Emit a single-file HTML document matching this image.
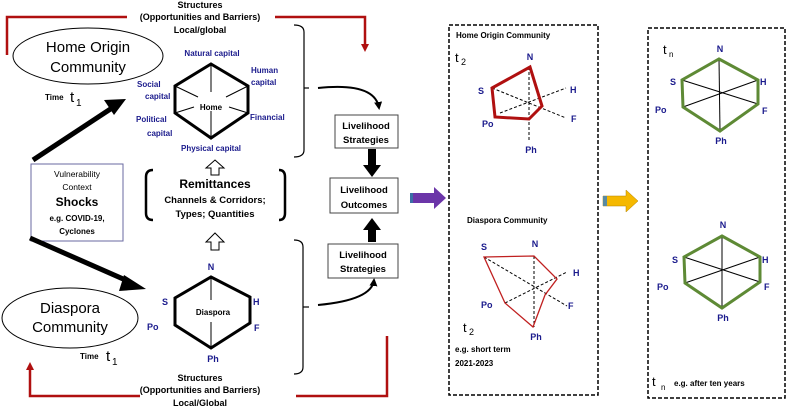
<!DOCTYPE html>
<html><head><meta charset="utf-8"><style>
html,body{margin:0;padding:0;background:#fff;}
svg{display:block;font-family:"Liberation Sans",sans-serif;}
.b{font-weight:bold;}
.bl{fill:#1a1a8c;font-weight:bold;}
</style></head><body>
<svg width="787" height="409" viewBox="0 0 787 409" xmlns="http://www.w3.org/2000/svg">
<defs>
<marker id="ra" markerWidth="8" markerHeight="8" refX="4" refY="4" orient="auto" markerUnits="userSpaceOnUse"><path d="M0,0 L8,4 L0,8 z" fill="#b01010"/></marker>
<marker id="ka" markerWidth="8" markerHeight="8" refX="6" refY="4" orient="auto" markerUnits="userSpaceOnUse"><path d="M0,0 L8,4 L0,8 z" fill="#000"/></marker>
</defs>
<!-- red structure lines -->
<g stroke="#b01010" stroke-width="2.5" fill="none">
<polyline points="7,55 7,17 127,17"/>
<polyline points="275,17 365,17 365,48" marker-end="url(#ra)"/>
<polyline points="140,396 30,396 30,366" marker-end="url(#ra)"/>
<polyline points="296,396 387,396 387,336"/>
</g>
<g font-size="9" class="b" text-anchor="middle">
<text x="200" y="8">Structures</text>
<text x="200" y="20">(Opportunities and Barriers)</text>
<text x="200" y="33">Local/global</text>
<text x="200" y="381">Structures</text>
<text x="200" y="393">(Opportunities and Barriers)</text>
<text x="200" y="406">Local/Global</text>
</g>
<!-- ellipses -->
<ellipse cx="88" cy="56" rx="75" ry="28" fill="none" stroke="#000" stroke-width="1"/>
<text x="88" y="52" font-size="15" text-anchor="middle">Home Origin</text>
<text x="88" y="72" font-size="15" text-anchor="middle">Community</text>
<text x="45" y="100" font-size="8" class="b">Time</text><text x="70" y="102" font-size="15">t</text><text x="76" y="106" font-size="10">1</text>
<ellipse cx="70" cy="318" rx="68" ry="30" fill="none" stroke="#000" stroke-width="1"/>
<text x="70" y="313" font-size="15" text-anchor="middle">Diaspora</text>
<text x="70" y="332" font-size="15" text-anchor="middle">Community</text>
<text x="80" y="359" font-size="8" class="b">Time</text><text x="106" y="361" font-size="15">t</text><text x="112" y="365" font-size="10">1</text>
<!-- home hexagon -->
<polygon points="211,64 248,86 248,113 211,138 175,113 175,86" fill="none" stroke="#000" stroke-width="3"/>
<g stroke="#000" stroke-width="1">
<line x1="211" y1="64" x2="211" y2="92"/><line x1="211" y1="111" x2="211" y2="138"/>
<line x1="175" y1="86" x2="198" y2="97"/><line x1="248" y1="86" x2="226" y2="97"/>
<line x1="175" y1="113" x2="194" y2="107"/><line x1="248" y1="113" x2="229" y2="107"/>
</g>
<text x="211" y="110" font-size="8" class="b" text-anchor="middle">Home</text>
<g font-size="8" class="bl">
<text x="212" y="56" text-anchor="middle">Natural capital</text>
<text x="251" y="73">Human</text><text x="251" y="85">capital</text>
<text x="137" y="87">Social</text><text x="145" y="99">capital</text>
<text x="250" y="120">Financial</text>
<text x="136" y="122">Political</text><text x="147" y="136">capital</text>
<text x="211" y="151" text-anchor="middle">Physical capital</text>
</g>
<!-- brackets -->
<g fill="none" stroke="#000" stroke-width="1.2">
<path d="M294,25 Q304,25 304,32 L304,150 Q304,157 294,157"/>
<line x1="304" y1="88" x2="309" y2="88"/>
<path d="M294,240 Q303,240 303,247 L303,367 Q303,374 294,374"/>
<line x1="303" y1="307" x2="309" y2="307"/>
</g>
<g fill="none" stroke="#000" stroke-width="2">
<path d="M318,88 Q375,82 379,108" marker-end="url(#ka)"/>
<path d="M318,305 Q372,300 374,280" marker-end="url(#ka)"/>
</g>
<!-- remittances -->
<g fill="none" stroke="#000" stroke-width="2.5">
<path d="M153,170 Q146,170 146,177 L146,213 Q146,220 153,220"/>
<path d="M279,170 Q285,170 285,177 L285,213 Q285,220 279,220"/>
</g>
<text x="215" y="188" font-size="12" class="b" text-anchor="middle">Remittances</text>
<text x="215" y="203" font-size="9.5" class="b" text-anchor="middle">Channels &amp; Corridors;</text>
<text x="215" y="217" font-size="9.5" class="b" text-anchor="middle">Types; Quantities</text>
<g fill="#fff" stroke="#000" stroke-width="1">
<polygon points="215,160 224,168 219,168 219,175 211,175 211,168 206,168"/>
<polygon points="215,233 224,242 219,242 219,250 211,250 211,242 206,242"/>
</g>
<!-- vulnerability -->
<rect x="31" y="164" width="92" height="77" fill="#fff" stroke="#6a6aa0" stroke-width="1"/>
<g text-anchor="middle" font-size="8.5">
<text x="77" y="177">Vulnerability</text>
<text x="77" y="190">Context</text>
<text x="77" y="206" font-size="12" class="b">Shocks</text>
<text x="77" y="221" font-size="8" class="b">e.g. COVID-19,</text>
<text x="77" y="234" font-size="8" class="b">Cyclones</text>
</g>
<!-- black thick arrows -->
<line x1="33" y1="160" x2="112" y2="108" stroke="#000" stroke-width="5"/>
<polygon points="126,99 104,100 114,115" fill="#000"/>
<line x1="30" y1="238" x2="130" y2="282" stroke="#000" stroke-width="5"/>
<polygon points="146,289 124,275 119,291" fill="#000"/>
<!-- diaspora hexagon -->
<polygon points="211,277 250,297 250,323 211,348 175,325 175,298" fill="none" stroke="#000" stroke-width="3"/>
<g stroke="#000" stroke-width="1">
<line x1="211" y1="277" x2="211" y2="300"/><line x1="211" y1="322" x2="211" y2="348"/>
</g>
<text x="213" y="315" font-size="8" class="b" text-anchor="middle">Diaspora</text>
<g font-size="9" class="bl">
<text x="211" y="270" text-anchor="middle">N</text>
<text x="162" y="305">S</text>
<text x="253" y="305">H</text>
<text x="147" y="330">Po</text>
<text x="254" y="331">F</text>
<text x="213" y="362" text-anchor="middle">Ph</text>
</g>
<!-- livelihood boxes -->
<g fill="#fff" stroke="#444" stroke-width="1">
<rect x="335" y="115" width="63" height="33"/>
<rect x="330" y="178" width="68" height="35"/>
<rect x="328" y="244" width="70" height="34"/>
</g>
<g font-size="9.5" class="b" text-anchor="middle">
<text x="366" y="129">Livelihood</text><text x="366" y="143">Strategies</text>
<text x="364" y="193">Livelihood</text><text x="364" y="208">Outcomes</text>
<text x="363" y="258">Livelihood</text><text x="363" y="272">Strategies</text>
</g>
<polygon points="368,149 376,149 376,165 381,165 372,177 363,165 368,165" fill="#000"/>
<polygon points="368,242 376,242 376,230 381,230 372,218 363,230 368,230" fill="#000"/>
<!-- purple & yellow arrows -->
<polygon points="410,193 434,193 434,187 446,198 434,209 434,203 410,203" fill="#6b35a8"/>
<rect x="410" y="193" width="3" height="10" fill="#3a6ea5"/>
<polygon points="603,196 626,196 626,190 638,201 626,212 626,206 603,206" fill="#f5b800" stroke="#b08000" stroke-width="0.5"/>
<rect x="603" y="196" width="4" height="10" fill="#5a8aa0"/>
<!-- dashed boxes -->
<rect x="449" y="25" width="149" height="370" fill="none" stroke="#000" stroke-width="1.5" stroke-dasharray="4,2"/>
<rect x="648" y="28" width="137" height="370" fill="none" stroke="#000" stroke-width="1.5" stroke-dasharray="4,2"/>
<text x="456" y="38" font-size="8" class="b">Home Origin Community</text>
<text x="455" y="62" font-size="13">t</text><text x="461" y="65" font-size="9">2</text>
<g stroke="#000" stroke-width="1" stroke-dasharray="3,2">
<line x1="529" y1="67" x2="529" y2="140"/>
<line x1="492" y1="88" x2="566" y2="118"/>
<line x1="500" y1="113" x2="566" y2="88"/>
</g>
<polygon points="530,67 542,106 529,119 495,117 492,88" fill="none" stroke="#b01010" stroke-width="3"/>
<g font-size="9" class="bl">
<text x="530" y="60" text-anchor="middle">N</text>
<text x="478" y="94">S</text><text x="570" y="93">H</text>
<text x="482" y="127">Po</text><text x="571" y="122">F</text>
<text x="531" y="153" text-anchor="middle">Ph</text>
</g>
<text x="467" y="223" font-size="8" class="b">Diaspora Community</text>
<g stroke="#000" stroke-width="1" stroke-dasharray="3,2">
<line x1="534" y1="256" x2="534" y2="327"/>
<line x1="484" y1="257" x2="567" y2="306"/>
<line x1="505" y1="303" x2="567" y2="272"/>
</g>
<polygon points="484,257 534,256 557,279 545,295 533,327 505,303" fill="none" stroke="#c02020" stroke-width="1.3"/>
<g font-size="9" class="bl">
<text x="481" y="250">S</text><text x="535" y="247" text-anchor="middle">N</text>
<text x="573" y="276">H</text><text x="481" y="308">Po</text>
<text x="568" y="309">F</text><text x="536" y="340" text-anchor="middle">Ph</text>
</g>
<text x="463" y="332" font-size="13">t</text><text x="469" y="335" font-size="9">2</text>
<text x="455" y="352" font-size="8" class="b">e.g. short term</text>
<text x="455" y="366" font-size="8" class="b">2021-2023</text>
<!-- tn hexagons -->
<g stroke="#000" stroke-width="1">
<line x1="719" y1="59" x2="720" y2="131"/><line x1="682" y1="80" x2="758" y2="104"/><line x1="683" y1="107" x2="758" y2="80"/>
<line x1="722" y1="236" x2="722" y2="308"/><line x1="684" y1="257" x2="760" y2="282"/><line x1="685" y1="283" x2="760" y2="257"/>
</g>
<g fill="none" stroke="#5e8a35" stroke-width="3">
<polygon points="719,59 758,80 758,104 720,131 683,107 682,80"/>
<polygon points="722,236 760,257 760,282 722,308 685,283 684,257"/>
</g>
<text x="663" y="54" font-size="13">t</text><text x="669" y="57" font-size="8">n</text>
<g font-size="9" class="bl">
<text x="720" y="52" text-anchor="middle">N</text><text x="670" y="85">S</text><text x="760" y="85">H</text>
<text x="655" y="113">Po</text><text x="762" y="114">F</text><text x="721" y="144" text-anchor="middle">Ph</text>
<text x="723" y="228" text-anchor="middle">N</text><text x="672" y="263">S</text><text x="762" y="263">H</text>
<text x="657" y="290">Po</text><text x="764" y="290">F</text><text x="723" y="321" text-anchor="middle">Ph</text>
</g>
<text x="652" y="386" font-size="13">t</text><text x="661" y="390" font-size="8">n</text>
<text x="674" y="386" font-size="8" class="b">e.g. after ten years</text>
</svg>
</body></html>
